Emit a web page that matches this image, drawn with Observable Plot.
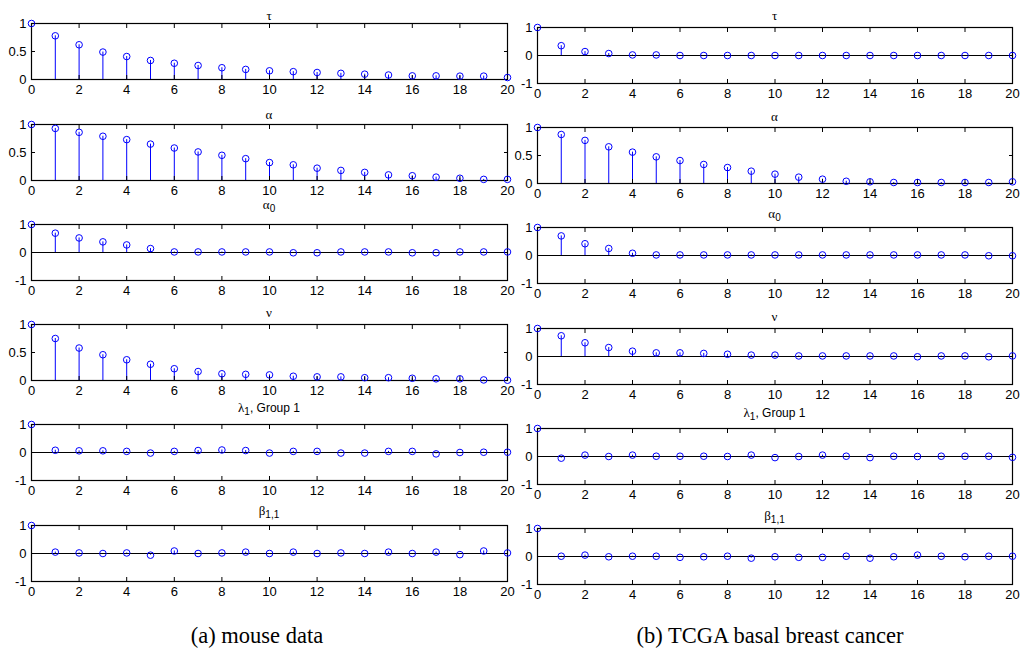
<!DOCTYPE html>
<html>
<head>
<meta charset="utf-8">
<script src="https://cdn.jsdelivr.net/npm/d3@7"></script>
<script src="https://cdn.jsdelivr.net/npm/@observablehq/plot@0.6"></script>
<style>
  html, body { margin: 0; padding: 0; background: white; }
  #root { position: relative; width: 1022px; height: 658px; background: white; overflow: hidden; }
  .panel { position: absolute; }
  .ttl { position: absolute; width: 300px; text-align: center; font-family: "Liberation Sans", Arial, sans-serif; font-size: 12px; color: #000; line-height: 14px; white-space: nowrap; }
  .ttl .g { font-family: "Liberation Serif", "Times New Roman", serif; font-size: 13px; }
  .ttl sub { font-size: 10px; vertical-align: -3px; line-height: 0; }
  .cap { position: absolute; width: 400px; text-align: center; font-family: "Liberation Serif", "Times New Roman", serif; font-size: 22.5px; color: #000; line-height: 26px; }
</style>
</head>
<body>
<div id="root"></div>
<script>
// ---- data (autocorrelation by lag) ----
const lags = d3.range(0, 21);
const xTicks = [0, 2, 4, 6, 8, 10, 12, 14, 16, 18, 20];

// (a) mouse data
const mouseTau    = [1, 0.78, 0.62, 0.49, 0.41, 0.34, 0.29, 0.25, 0.21, 0.18, 0.155, 0.14, 0.125, 0.11, 0.095, 0.08, 0.065, 0.065, 0.06, 0.06, 0.035];
const mouseAlpha  = [1, 0.93, 0.86, 0.79, 0.73, 0.65, 0.58, 0.51, 0.45, 0.39, 0.32, 0.28, 0.22, 0.18, 0.145, 0.10, 0.085, 0.06, 0.04, 0.02, 0.02];
const mouseAlpha0 = [1, 0.69, 0.52, 0.38, 0.27, 0.14, 0.02, 0.02, 0.02, 0.02, 0.02, -0.01, -0.01, 0.02, 0.02, 0.02, -0.01, -0.01, 0.02, 0.02, 0.02];
const mouseNu     = [1, 0.75, 0.58, 0.46, 0.37, 0.29, 0.21, 0.16, 0.12, 0.11, 0.10, 0.076, 0.065, 0.065, 0.05, 0.05, 0.04, 0.03, 0.03, 0.01, 0.005];
const mouseLambda = [1, 0.08, 0.06, 0.06, 0.04, -0.02, 0.04, 0.07, 0.09, 0.07, -0.02, 0.04, 0.04, -0.02, -0.02, 0.04, 0.04, -0.05, 0.0, 0.01, 0.01];
const mouseBeta   = [1, 0.05, 0.02, 0.0, 0.02, -0.06, 0.09, 0.0, 0.02, 0.05, 0.0, 0.05, 0.0, 0.02, 0.0, 0.05, 0.0, 0.05, -0.04, 0.09, 0.02];

// (b) TCGA basal breast cancer
const tcgaTau    = [1, 0.35, 0.14, 0.07, 0.02, 0.02, 0.0, 0.0, 0.0, 0.0, 0.0, 0.0, 0.0, 0.0, 0.0, 0.0, 0.0, 0.0, 0.0, 0.0, 0.0];
const tcgaAlpha  = [1, 0.875, 0.77, 0.655, 0.56, 0.476, 0.41, 0.34, 0.285, 0.22, 0.167, 0.113, 0.077, 0.04, 0.03, 0.018, 0.018, 0.018, 0.018, 0.018, 0.03];
const tcgaAlpha0 = [1, 0.70, 0.42, 0.25, 0.08, 0.02, 0.02, 0.02, 0.02, 0.02, 0.02, 0.02, 0.02, 0.02, 0.02, 0.02, 0.02, 0.02, 0.02, -0.01, -0.01];
const tcgaNu     = [1, 0.74, 0.49, 0.32, 0.19, 0.13, 0.13, 0.11, 0.08, 0.05, 0.05, 0.02, 0.02, 0.02, 0.02, 0.02, -0.01, 0.02, 0.02, -0.01, 0.02];
const tcgaLambda = [1, -0.06, 0.05, 0.0, 0.05, 0.01, 0.01, 0.01, 0.0, 0.05, -0.04, 0.0, 0.05, 0.01, -0.04, 0.01, 0.0, 0.01, 0.01, 0.01, -0.03];
const tcgaBeta   = [1, 0.01, 0.05, -0.01, 0.01, 0.01, -0.03, -0.01, 0.01, -0.06, -0.01, -0.03, -0.03, 0.01, -0.06, -0.01, 0.05, 0.01, -0.01, 0.01, 0.01];

const panelTitles = [
  '<span class="g">τ</span>',
  '<span class="g">α</span>',
  '<span class="g">α</span><sub>0</sub>',
  '<span class="g">ν</span>',
  '<span class="g">λ</span><sub>1</sub>, Group 1',
  '<span class="g">β</span><sub>1,1</sub>'
];
const mouseSeries = [mouseTau, mouseAlpha, mouseAlpha0, mouseNu, mouseLambda, mouseBeta];
const tcgaSeries  = [tcgaTau, tcgaAlpha, tcgaAlpha0, tcgaNu, tcgaLambda, tcgaBeta];
const mouseDomains = [[0, 1], [0, 1], [-1, 1], [0, 1], [-1, 1], [-1, 1]];
const tcgaDomains  = [[-1, 1], [0, 1], [-1, 1], [-1, 1], [-1, 1], [-1, 1]];
const captions = ["(a) mouse data", "(b) TCGA basal breast cancer"];

// ---- layout ----
const FRAME_H = 56, MT = 6, MB = 20;
const cols = [
  {series: mouseSeries, domains: mouseDomains, left: 0,   width: 517, ml: 31, mr: 10,
   tops: [23, 124, 224, 324, 424, 525], titleY: [9, 108, 198, 306, 401, 504], capX: 257},
  {series: tcgaSeries,  domains: tcgaDomains,  left: 510, width: 512, ml: 27, mr: 10,
   tops: [27, 127, 227, 328, 428, 528], titleY: [9, 110, 207, 310, 406, 509], capX: 770}
];

const root = document.getElementById("root");

function panel(values, domain, width, ml, mr) {
  const data = lags.map((lag, i) => ({lag, v: values[i]}));
  const yt = domain[0] === 0 ? [0, 0.5, 1] : [-1, 0, 1];
  return Plot.plot({
    width, height: FRAME_H + MT + MB,
    marginTop: MT, marginBottom: MB, marginLeft: ml, marginRight: mr,
    style: {background: "transparent", overflow: "visible", fontFamily: "'Liberation Sans', Arial, sans-serif", fontSize: "13px", color: "black"},
    x: {domain: [0, 20]},
    y: {domain},
    marks: [
      Plot.ruleX(data, {x: "lag", y1: 0, y2: "v", stroke: "#0000ff", strokeWidth: 1}),
      Plot.ruleY([0], {stroke: "black", strokeWidth: 1}),
      Plot.frame({stroke: "black", strokeWidth: 1.2}),
      Plot.axisX({anchor: "bottom", ticks: xTicks, tickSize: 0, tickPadding: 5, label: null, tickFormat: d => String(d)}),
      Plot.axisX({anchor: "bottom", ticks: xTicks, tickSize: -4, tickFormat: () => "", label: null}),
      Plot.axisX({anchor: "top", ticks: xTicks, tickSize: -4, tickFormat: () => "", label: null}),
      Plot.axisY({anchor: "left", ticks: yt, tickSize: 0, tickPadding: 5, label: null, tickFormat: d => String(d)}),
      Plot.axisY({anchor: "left", ticks: yt, tickSize: -4, tickFormat: () => "", label: null}),
      Plot.axisY({anchor: "right", ticks: yt, tickSize: -4, tickFormat: () => "", label: null}),
      Plot.dot(data, {x: "lag", y: "v", r: 3.3, stroke: "#0000ff", fill: "none", strokeWidth: 1})
    ]
  });
}

cols.forEach((c, ci) => {
  c.series.forEach((vals, r) => {
    const el = panel(vals, c.domains[r], c.width, c.ml, c.mr);
    el.classList.add("panel");
    el.style.left = c.left + "px";
    el.style.top = (c.tops[r] - MT) + "px";
    root.appendChild(el);
    const t = document.createElement("div");
    t.className = "ttl";
    t.innerHTML = panelTitles[r];
    const cx = c.left + c.ml + (c.width - c.ml - c.mr) / 2;
    t.style.left = (cx - 150) + "px";
    t.style.top = c.titleY[r] + "px";
    root.appendChild(t);
  });
  const cap = document.createElement("div");
  cap.className = "cap";
  cap.textContent = captions[ci];
  cap.style.left = (c.capX - 200) + "px";
  cap.style.top = "623px";
  root.appendChild(cap);
});
</script>
</body>
</html>
